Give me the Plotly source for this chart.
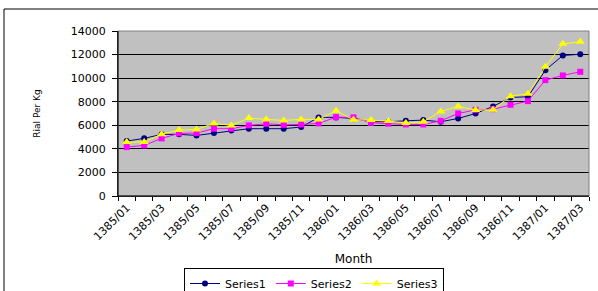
import plotly.graph_objects as go

months = ["1385/01","1385/02","1385/03","1385/04","1385/05","1385/06","1385/07","1385/08","1385/09",
          "1385/10","1385/11","1385/12","1386/01","1386/02","1386/03","1386/04","1386/05","1386/06",
          "1386/07","1386/08","1386/09","1386/10","1386/11","1386/12","1387/01","1387/02","1387/03"]
series1 = [4660, 4890, 5230, 5230, 5140, 5340, 5560, 5710, 5710, 5710, 5850, 6670, 6670, 6580,
           6300, 6300, 6380, 6440, 6300, 6580, 7000, 7600, 8360, 8420, 10680, 11920, 12030]
series2 = [4150, 4290, 4890, 5310, 5340, 5710, 5710, 5990, 6130, 6040, 6070, 6160, 6690, 6670,
           6210, 6130, 6070, 6070, 6380, 7000, 7310, 7370, 7740, 8050, 9830, 10230, 10540]
series3 = [4580, 4580, 5250, 5590, 5650, 6160, 5990, 6610, 6500, 6410, 6500, 6500, 7230, 6470,
           6440, 6360, 6190, 6300, 7170, 7600, 7290, 7310, 8470, 8670, 10960, 12910, 13080]
y_ticks = [0, 2000, 4000, 6000, 8000, 10000, 12000, 14000]
y_tick_labels = ["0", "2000", "4000", "6000", "8000", "10000", "12000", "14000"]

xs = list(range(len(months)))
font = "DejaVu Sans, Arial, sans-serif"

fig = go.Figure()
fig.add_trace(go.Scatter(x=xs, y=series1, name="Series1", mode="lines+markers",
                         line=dict(color="#000080", width=1),
                         marker=dict(symbol="circle", size=6, color="#000080")))
fig.add_trace(go.Scatter(x=xs, y=series2, name="Series2", mode="lines+markers",
                         line=dict(color="#FF00FF", width=1),
                         marker=dict(symbol="square", size=6, color="#FF00FF")))
fig.add_trace(go.Scatter(x=xs, y=series3, name="Series3", mode="lines+markers",
                         line=dict(color="#FFFF00", width=1),
                         marker=dict(symbol="triangle-up", size=8, color="#FFFF00")))

L, R, T, B = 118, 9, 31, 95
W, H = 598, 291
pw = W - L - R
ph = H - T - B

fig.update_layout(
    width=W, height=H,
    margin=dict(l=L, r=R, t=T, b=B, autoexpand=False),
    paper_bgcolor="white",
    plot_bgcolor="#C0C0C0",
    font=dict(family=font, size=11, color="black"),
    showlegend=True,
    legend=dict(orientation="h", xref="container", yref="container",
                x=314 / W, xanchor="center",
                y=1 - 268 / H, yanchor="top",
                bgcolor="white", bordercolor="black", borderwidth=1,
                font=dict(size=11), itemwidth=30, tracegroupgap=0),
    xaxis=dict(
        range=[-0.5, len(months) - 0.5],
        tickmode="array",
        tickvals=xs[::2],
        ticktext=months[::2],
        tickangle=-45,
        ticks="",
        showgrid=False,
        zeroline=False,
        automargin=False,
        showline=True, linecolor="black", linewidth=1,
        tickfont=dict(size=11),
        title=dict(text="Month", font=dict(size=12), standoff=12),
        minor=dict(tickmode="array", tickvals=[i - 0.5 for i in range(len(months) + 1)],
                   ticks="outside", ticklen=4, tickcolor="black", showgrid=False),
    ),
    yaxis=dict(
        range=[0, 14000],
        tickmode="array",
        tickvals=y_ticks,
        ticktext=y_tick_labels,
        ticks="outside", ticklen=5, tickcolor="black",
        ticklabelstandoff=4,
        showgrid=True, gridcolor="black", gridwidth=1,
        zeroline=False,
        automargin=False,
        showline=True, linecolor="black", linewidth=1,
        tickfont=dict(size=11),
        title=dict(text="Rial Per Kg", font=dict(size=9), standoff=28),
    ),
    shapes=[
        dict(type="rect", xref="paper", yref="paper", x0=0, x1=1, y0=0, y1=1,
             line=dict(color="#808080", width=1), fillcolor="rgba(0,0,0,0)", layer="above"),
        dict(type="line", xref="paper", yref="paper", x0=0, x1=0, y0=0, y1=1,
             line=dict(color="black", width=1), layer="above"),
        dict(type="line", xref="paper", yref="paper", x0=0, x1=1, y0=0, y1=0,
             line=dict(color="black", width=1), layer="above"),
        dict(type="rect", xref="paper", yref="paper",
             x0=(4 - L) / pw, x1=(W + 5 - L) / pw,
             y0=(H - B - (H + 5)) / ph, y1=(H - B - 9) / ph,
             line=dict(color="black", width=1), fillcolor="rgba(0,0,0,0)"),
    ],
)

fig.write_html("out.html", config={"displayModeBar": False},
               post_script="document.body.style.margin='0';document.body.style.overflow='hidden';")
